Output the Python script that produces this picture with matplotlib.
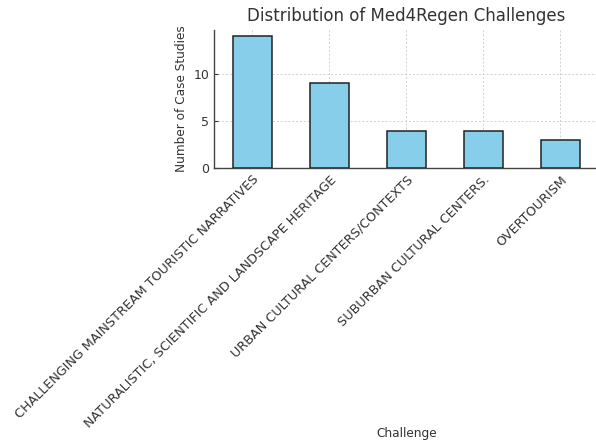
import numpy as np
import matplotlib
matplotlib.use("Agg")
import matplotlib.pyplot as plt

challenges = [
    "CHALLENGING MAINSTREAM TOURISTIC NARRATIVES",
    "NATURALISTIC, SCIENTIFIC AND LANDSCAPE HERITAGE",
    "URBAN CULTURAL CENTERS/CONTEXTS",
    "SUBURBAN CULTURAL CENTERS.",
    "OVERTOURISM",
]
counts = [14, 9, 4, 4, 3]

txt = "#333333"
plt.rcParams["text.color"] = txt
plt.rcParams["axes.labelcolor"] = txt
plt.rcParams["xtick.color"] = txt
plt.rcParams["ytick.color"] = txt

fig = plt.figure(figsize=(5.96, 4.45), dpi=100)
ax = fig.add_axes([0.359, 0.622, 0.646, 0.311])

x = np.arange(len(challenges))
ax.bar(x, counts, width=0.5, color="skyblue", edgecolor="#222222", linewidth=1.1, zorder=3)
ax.set_xlim(-0.5, len(challenges) - 0.5)
ax.set_ylim(0, 14.7)
ax.set_yticks([0, 5, 10])
ax.set_xticks(x)
ax.set_xticklabels(challenges, rotation=45, ha="right", rotation_mode="anchor", fontsize=9.2)
ax.tick_params(axis="y", labelsize=9, direction="in", length=3)
ax.tick_params(axis="x", direction="in", length=3)

ax.grid(True, linestyle=(0, (2, 2)), color="#d0d0d0", linewidth=0.7, zorder=0)
for s in ["top", "right"]:
    ax.spines[s].set_visible(False)
for s in ["left", "bottom"]:
    ax.spines[s].set_color("#444444")
    ax.spines[s].set_linewidth(1.0)

ax.set_title("Distribution of Med4Regen Challenges", fontsize=12, pad=6)
ax.set_ylabel("Number of Case Studies", fontsize=8.7)
ax.set_xlabel("Challenge", fontsize=8.7)
ax.xaxis.set_label_coords(0.5, -1.87)

fig.savefig("out.png", dpi=100)
